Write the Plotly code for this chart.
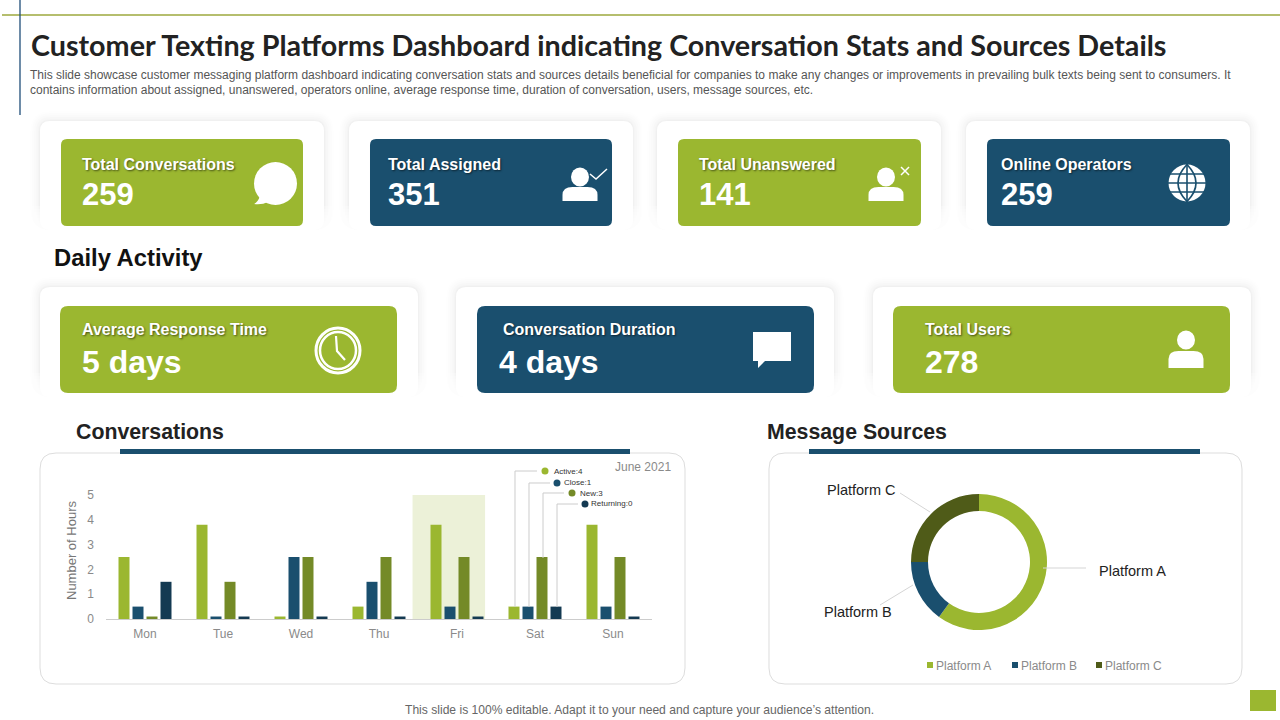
import plotly.graph_objects as go

# ── data ─────────────────────────────────────────────
days = ["Mon", "Tue", "Wed", "Thu", "Fri", "Sat", "Sun"]
active = [2.5, 3.8, 0.1, 0.5, 3.8, 0.5, 3.8]
close = [0.5, 0.1, 2.5, 1.5, 0.5, 0.5, 0.5]
new = [0.1, 1.5, 2.5, 2.5, 2.5, 2.5, 2.5]
returning = [1.5, 0.1, 0.1, 0.1, 0.1, 0.5, 0.1]

platforms = ["Platform A", "Platform B", "Platform C"]
platform_share = [60, 15, 25]

kpi_labels = ["Total Conversations", "Total Assigned", "Total Unanswered", "Online Operators"]
kpi_values = ["259", "351", "141", "259"]
daily_labels = ["Average Response Time", "Conversation Duration", "Total Users"]
daily_values = ["5 days", "4 days", "278"]
callout_labels = ["Active:4", "Close:1", "New:3", "Returning:0"]

TITLE = "Customer Texting Platforms Dashboard indicating Conversation Stats and Sources Details"
SUB_1 = ("This slide showcase customer messaging platform dashboard indicating conversation stats and sources "
         "details beneficial for companies to make any changes or improvements in prevailing bulk texts being sent to consumers. It")
SUB_2 = ("contains information about assigned, unanswered, operators online, average response time, "
         "duration of conversation, users, message sources, etc.")
FOOTER = "This slide is 100% editable. Adapt it to your need and capture your audience\u2019s attention."

GREEN = "#9BB730"
NAVY = "#1A4F6E"
OLIVE = "#748A27"
DARK_NAVY = "#143A52"
DONUT_C = "#4F5B18"
GREY = "#8A8A8A"
SANS = "Liberation Sans, Arial, sans-serif"
WIDTH, HEIGHT = 1280, 720

shapes, notes = [], []


# ── helpers: everything outside the plots is placed in page pixels ───────
def px(x):
    return x / WIDTH


def py(y):
    return 1 - y / HEIGHT


def add_shape(kind, x0, y0, x1, y1, fill=None, line=None, width=0, layer="below"):
    shapes.append(dict(type=kind, xref="paper", yref="paper", x0=px(x0), x1=px(x1), y0=py(y0), y1=py(y1),
                       fillcolor=fill, line=dict(color=line, width=width), layer=layer))


def add_path(points, fill=None, line=None, width=0, layer="above"):
    """points is a list of (cmd, x, y, ...) tuples in page pixels."""
    parts = []
    for p in points:
        if p[0] == "Z":
            parts.append("Z")
            continue
        nums = []
        for i in range(1, len(p), 2):
            nums.append(f"{px(p[i]):.5f},{py(p[i + 1]):.5f}")
        parts.append(p[0] + " ".join(nums))
    shapes.append(dict(type="path", xref="paper", yref="paper", path=" ".join(parts),
                       fillcolor=fill, line=dict(color=line, width=width), layer=layer))


def round_rect(x0, y0, x1, y1, r, fill=None, line=None, width=0, layer="below"):
    add_path([("M", x0 + r, y0), ("L", x1 - r, y0), ("Q", x1, y0, x1, y0 + r),
              ("L", x1, y1 - r), ("Q", x1, y1, x1 - r, y1),
              ("L", x0 + r, y1), ("Q", x0, y1, x0, y1 - r),
              ("L", x0, y0 + r), ("Q", x0, y0, x0 + r, y0), ("Z",)],
             fill=fill, line=line, width=width, layer=layer)


def add_text(x, y, text, size, color, bold=False, anchor="left", family=SANS, shadow=None, angle=0):
    font = dict(family=family, size=size, color=color, weight=700 if bold else 400)
    if shadow:
        font["shadow"] = shadow
    notes.append(dict(xref="paper", yref="paper", x=px(x), y=py(y), text=text, showarrow=False,
                      xanchor=anchor, yanchor="middle", font=font, borderpad=0, textangle=angle))


def soft_card(x0, y0, x1, y1):
    for grow, alpha in [(10, 0.005), (8, 0.006), (6, 0.008), (4, 0.010), (2, 0.012), (1, 0.014)]:
        round_rect(x0 - grow, y0 - grow, x1 + grow, y1, 10 + grow, fill=f"rgba(0,0,0,{alpha})")
    # white veils let the side shadow die away towards the bottom
    for k in range(8):
        add_shape("rect", x0 - 12, y1 - 24 + k * 3, x1 + 12, y1 + 1, fill="rgba(255,255,255,0.25)")
    round_rect(x0, y0, x1, y1, 10, fill="#FFFFFF")


def person(cx, head_y, body_top, body_bottom, half):
    add_shape("circle", cx - 9, head_y - 9.5, cx + 9, head_y + 9.5, fill="white", layer="above")
    add_path([("M", cx - half, body_bottom), ("L", cx - half, body_top + 8),
              ("Q", cx - half, body_top, cx - half + 10, body_top), ("L", cx + half - 10, body_top),
              ("Q", cx + half, body_top, cx + half, body_top + 8), ("L", cx + half, body_bottom), ("Z",)],
             fill="white")


# ── page furniture ───────────────────────────────────
add_shape("line", 2, 15, 1280, 15, line="#9DA83E", width=1.3)
add_shape("line", 20, 0, 20, 115, line="#1F4E79", width=1.3)
add_text(30, 44.5, TITLE, 28.7, "#222222", bold=True, family="Lato, sans-serif")
add_text(29, 75, SUB_1, 12, "#555555")
add_text(29, 89.5, SUB_2, 12, "#555555")
add_text(404, 710, FOOTER, 12.1, "#666666")
add_shape("rect", 1250, 690, 1276, 711, fill=GREEN)

# KPI row
card_x = [(40, 324), (349, 633), (657, 941), (966, 1250)]
inner_x = [(61, 303), (370, 612), (678, 921), (987, 1230)]
text_x = [81, 387, 698, 1000]
for i in range(4):
    soft_card(card_x[i][0], 121, card_x[i][1], 230)
    round_rect(inner_x[i][0], 139, inner_x[i][1], 226, 6, fill=GREEN if i % 2 == 0 else NAVY)
    add_text(text_x[i], 165, kpi_labels[i], 16, "white", bold=True, shadow="1px 1px 2px rgba(0,0,0,0.55)")
    add_text(text_x[i], 195, kpi_values[i], 31, "white", bold=True)

# daily activity row
add_text(53, 257, "Daily Activity", 23.8, "#111111", bold=True)
card_x2 = [(40, 418), (456, 834), (873, 1251)]
inner_x2 = [(60, 397), (477, 814), (893, 1230)]
label_x2 = [81, 502, 924]
value_x2 = [81, 498, 924]
for i in range(3):
    soft_card(card_x2[i][0], 287, card_x2[i][1], 397)
    round_rect(inner_x2[i][0], 306, inner_x2[i][1], 393, 8, fill=GREEN if i % 2 == 0 else NAVY)
    add_text(label_x2[i], 330, daily_labels[i], 16, "white", bold=True, shadow="1px 1px 2px rgba(0,0,0,0.55)")
    add_text(value_x2[i], 362, daily_values[i], 32, "white", bold=True)

# icons
add_shape("circle", 254, 162, 297, 205, fill="white", layer="above")
add_path([("M", 260, 196), ("Q", 258, 202, 254, 204), ("Q", 262, 205, 268, 202), ("Z",)], fill="white")

person(580, 177, 187, 201, 17.5)
add_path([("M", 590, 174), ("L", 596, 179), ("L", 607, 169)], line="white", width=1.5)
person(886, 177, 187, 201, 17.5)
add_path([("M", 901, 167), ("L", 909, 175)], line="white", width=1.5)
add_path([("M", 909, 167), ("L", 901, 175)], line="white", width=1.5)

add_shape("circle", 1168.5, 164.5, 1205.5, 201.5, fill="white", layer="above")
for gy in [174, 183, 192]:
    add_shape("line", 1168, gy, 1206, gy, line=NAVY, width=1.6, layer="above")
add_shape("line", 1187, 164, 1187, 202, line=NAVY, width=1.6, layer="above")
for ctrl in [1169, 1205]:
    add_path([("M", 1187, 164.5), ("Q", ctrl, 183, 1187, 201.5)], line=NAVY, width=1.6)

add_shape("circle", 316, 328, 360, 373, line="white", width=3, layer="above")
add_shape("circle", 320, 332, 356, 369, line="white", width=2.5, layer="above")
add_path([("M", 336, 336), ("L", 337, 351), ("L", 345, 360)], line="white", width=2.2)

add_path([("M", 753, 332), ("L", 791, 332), ("L", 791, 361), ("L", 765, 361), ("L", 758, 368),
          ("L", 758, 361), ("L", 753, 361), ("Z",)], fill="white")

person(1186, 340, 351, 368, 17.5)

# bottom panels
add_text(75, 432, "Conversations", 21.3, "#222222", bold=True)
add_text(766, 432, "Message Sources", 21.3, "#222222", bold=True)
round_rect(40, 453, 685, 684, 16, fill="white", line="#DDDDDD", width=1)
round_rect(769, 453, 1242, 684, 16, fill="white", line="#DDDDDD", width=1)
add_shape("rect", 120, 449, 630, 454, fill=NAVY)
add_shape("rect", 809, 449, 1200, 454, fill=NAVY)
add_text(672, 467, "June 2021", 12, GREY, anchor="right")
add_text(71, 551, "Number of Hours", 13, "#777777", anchor="center", angle=-90)

# Friday highlight sits behind the bars
shapes.append(dict(type="rect", xref="x", yref="y", x0=3.43, x1=4.36, y0=0, y1=5,
                   fillcolor="#ECF1D8", line=dict(width=0), layer="below"))

# Saturday callouts
line_x = [515, 529, 543, 557]
line_top = [471, 483, 493, 504]
line_end = [537, 550, 564, 578]
dot_x = [545, 557, 572, 585]
label_x = [553, 563, 579, 590]
dot_col = [GREEN, NAVY, OLIVE, DARK_NAVY]
for i in range(4):
    add_path([("M", line_x[i], 607 if i != 2 else 558), ("L", line_x[i], line_top[i]), ("L", line_end[i], line_top[i])],
             line="#CCCCCC", width=1)
    add_shape("circle", dot_x[i] - 3.5, line_top[i] - 3.5, dot_x[i] + 3.5, line_top[i] + 3.5,
              fill=dot_col[i], layer="above")
    add_text(label_x[i], line_top[i], callout_labels[i], 8, "#333333")

# donut labels and legend
add_shape("line", 1043, 568, 1086, 568, line="#D5D5D5", width=1, layer="above")
add_shape("line", 880, 605, 913, 585, line="#D5D5D5", width=1, layer="above")
add_shape("line", 900, 493, 930, 512, line="#D5D5D5", width=1, layer="above")
add_text(1098, 571, platforms[0], 14.5, "#222222")
add_text(823, 612, platforms[1], 14.5, "#222222")
add_text(826, 490, platforms[2], 14.5, "#222222")

swatch_x = [927, 1012, 1096]
donut_col = [GREEN, NAVY, DONUT_C]
for i in range(3):
    add_shape("rect", swatch_x[i], 662, swatch_x[i] + 6, 668, fill=donut_col[i])
    add_text(swatch_x[i] + 8, 665.5, platforms[i], 12, GREY)

# ── charts ───────────────────────────────────────────
fig = go.Figure()
series = [("Active", active, GREEN), ("Close", close, NAVY), ("New", new, OLIVE), ("Returning", returning, DARK_NAVY)]
for name, vals, col in series:
    fig.add_trace(go.Bar(x=days, y=vals, name=name, marker=dict(color=col, line=dict(width=0)), showlegend=False))

fig.add_trace(go.Pie(
    labels=platforms, values=platform_share, hole=0.75, sort=False, direction="clockwise", rotation=0,
    marker=dict(colors=donut_col, line=dict(width=0)), textinfo="none", showlegend=False,
    domain=dict(x=[px(911), px(1047)], y=[py(630), py(494)]),
))

fig.update_layout(
    width=WIDTH, height=HEIGHT, margin=dict(l=0, r=0, t=0, b=0, autoexpand=False),
    paper_bgcolor="white", plot_bgcolor="rgba(0,0,0,0)",
    barmode="group", bargap=0.282, bargroupgap=0.214,
    shapes=shapes, annotations=notes,
    xaxis=dict(domain=[px(106), px(652)], showgrid=False, zeroline=False, showline=True, linecolor="#CCCCCC",
               ticks="", tickfont=dict(family=SANS, size=12, color=GREY), ticklabelstandoff=4),
    yaxis=dict(domain=[py(619), py(495)], range=[0, 5], dtick=1, showgrid=False, zeroline=False,
               ticks="", tickfont=dict(family=SANS, size=12, color=GREY), ticklabelstandoff=11),
)

fig.write_html("out.html", config=dict(displayModeBar=False),
               post_script="document.body.style.margin='0';document.body.style.overflow='hidden';")
